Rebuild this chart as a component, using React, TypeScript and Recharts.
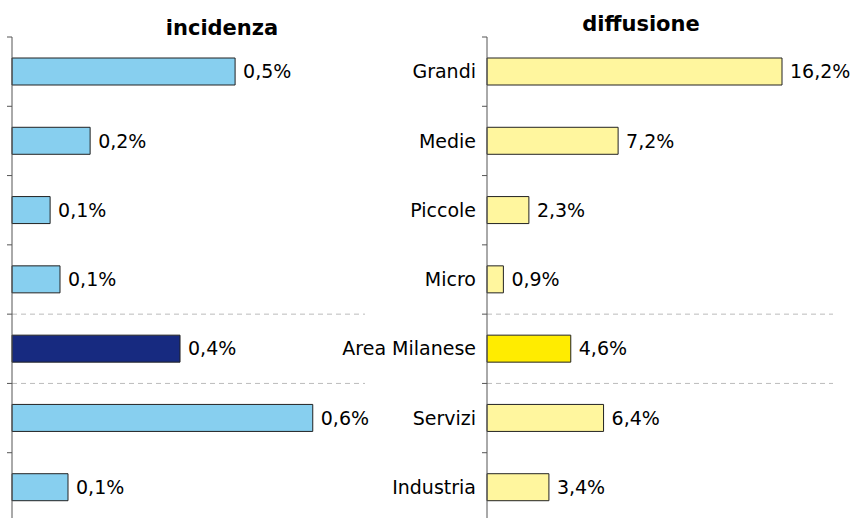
import { BarChart, Bar, XAxis, YAxis, Cell, LabelList, ReferenceLine } from "recharts"

// Categories and values
const categories = ["Grandi", "Medie", "Piccole", "Micro", "Area Milanese", "Servizi", "Industria"]
const incidenza = [0.474, 0.166, 0.081, 0.102, 0.357, 0.639, 0.119]
const diffusione = [16.2, 7.2, 2.3, 0.9, 4.6, 6.4, 3.4]
const highlight = "Area Milanese"
// dashed separators sit on top of these categories
const separators = ["Area Milanese", "Servizi"]

const data = categories.map((name, i) => ({
  name,
  incidenza: incidenza[i],
  diffusione: diffusione[i],
}))

const FONT = "'DejaVu Sans', sans-serif"
const TICK = 5
const GAP = 6

const fmt = (v: any) => Number(v).toFixed(1).replace(".", ",") + "%"

// Excel-like tick marks between categories, label optional
const makeTick = (showLabel: boolean, margin: number) => (props: any) => {
  const { x, y, payload, index, visibleTicksCount } = props
  const half = payload && payload.offset ? payload.offset : 34.6
  const ax = x + TICK + margin
  const last = index === visibleTicksCount - 1
  return (
    <g>
      <line x1={ax - TICK} x2={ax} y1={y - half} y2={y - half} stroke="#555" />
      {last && <line x1={ax - TICK} x2={ax} y1={y + half} y2={y + half} stroke="#555" />}
      {showLabel && (
        <text x={x} y={y} dy="0.35em" textAnchor="end" fill="#000" fontSize={19} fontFamily={FONT}>
          {payload.value}
        </text>
      )}
    </g>
  )
}

export default function App() {
  return (
    <div
      style={{
        position: "absolute",
        left: 0,
        top: 0,
        width: 851,
        height: 518,
        overflow: "hidden",
        background: "#fff",
        fontFamily: FONT,
      }}
    >
      <div style={{ position: "absolute", left: 122, top: 16, width: 200, textAlign: "center", fontWeight: 700, fontSize: 21 }}>
        incidenza
      </div>
      <div style={{ position: "absolute", left: 541, top: 12, width: 200, textAlign: "center", fontWeight: 700, fontSize: 21 }}>
        diffusione
      </div>

      <div style={{ position: "absolute", left: 0, top: 0 }}>
        <BarChart
          width={400}
          height={522}
          data={data}
          layout="vertical"
          margin={{ top: 37, right: 35, left: 0, bottom: 0 }}
        >
          <XAxis type="number" domain={[0, 0.75]} hide />
          <YAxis
            type="category"
            dataKey="name"
            width={12}
            interval={0}
            axisLine={{ stroke: "#555" }}
            tickLine={false}
            tickSize={TICK}
            tickMargin={0}
            tick={makeTick(false, 0)}
          />
          {separators.map((s) => (
            <ReferenceLine key={s} y={s} position="start" stroke="#bbb" strokeDasharray="5 4" />
          ))}
          <Bar dataKey="incidenza" barSize={27} stroke="#222" strokeWidth={1} isAnimationActive={false}>
            {data.map((d) => (
              <Cell key={d.name} fill={d.name === highlight ? "#172a80" : "#87cfef"} />
            ))}
            <LabelList dataKey="incidenza" position="right" offset={8} formatter={fmt} fill="#000" fontSize={19} fontFamily={FONT} />
          </Bar>
        </BarChart>
      </div>

      <div style={{ position: "absolute", left: 330, top: 0 }}>
        <BarChart
          width={521}
          height={522}
          data={data}
          layout="vertical"
          margin={{ top: 37, right: 18, left: 7, bottom: 0 }}
        >
          <XAxis type="number" domain={[0, 19]} hide />
          <YAxis
            type="category"
            dataKey="name"
            width={150}
            interval={0}
            axisLine={{ stroke: "#555" }}
            tickLine={false}
            tickSize={TICK}
            tickMargin={GAP}
            tick={makeTick(true, GAP)}
          />
          {separators.map((s) => (
            <ReferenceLine key={s} y={s} position="start" stroke="#bbb" strokeDasharray="5 4" />
          ))}
          <Bar dataKey="diffusione" barSize={27} stroke="#222" strokeWidth={1} isAnimationActive={false}>
            {data.map((d) => (
              <Cell key={d.name} fill={d.name === highlight ? "#ffec00" : "#fff69e"} />
            ))}
            <LabelList dataKey="diffusione" position="right" offset={8} formatter={fmt} fill="#000" fontSize={19} fontFamily={FONT} />
          </Bar>
        </BarChart>
      </div>
    </div>
  )
}
